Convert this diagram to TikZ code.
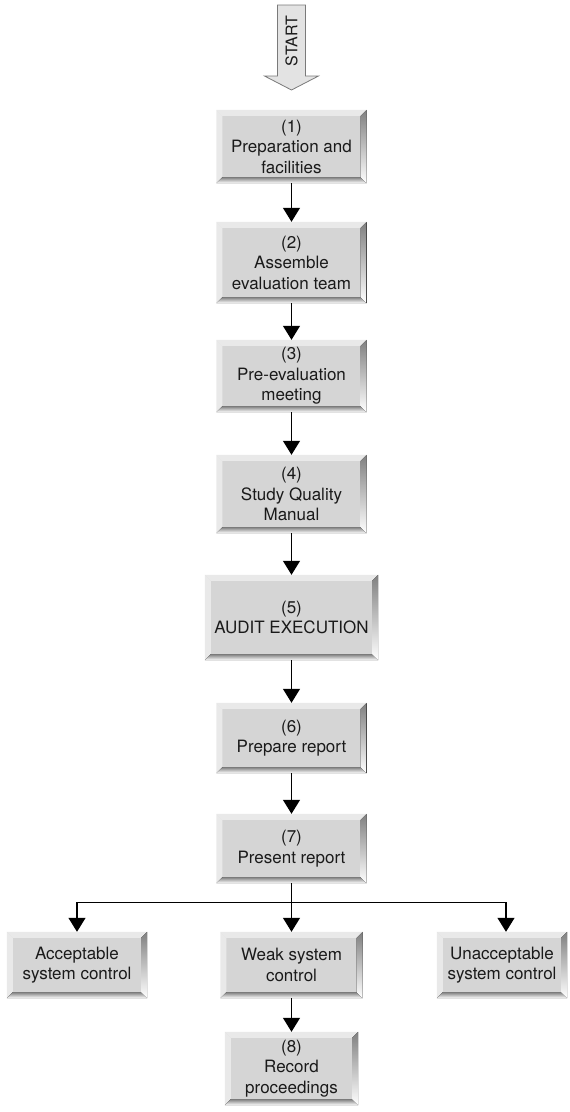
\documentclass[tikz,border=0pt]{standalone}
\usepackage{fontspec}
\setmainfont{TeX Gyre Heros}
\usetikzlibrary{arrows.meta,calc}
\definecolor{face}{HTML}{D5D5D5}
\definecolor{hilite}{HTML}{E9E9E9}
\definecolor{shade}{HTML}{A7A7A7}
\definecolor{ink}{HTML}{1A1A1A}
\definecolor{startfill}{HTML}{E3E3E3}
\definecolor{startline}{HTML}{7A7A7A}

% bevel width of the raised boxes
\newcommand\bw{6}
% raised-panel edges around a named node: light top/left, dark bottom/right
\newcommand\bevel[1]{%
  \fill[hilite] (#1.north west) -- ($(#1.north west)+(\bw,\bw)$) -- ($(#1.south west)+(\bw,-\bw)$) -- (#1.south west) -- cycle;
  \fill[hilite] (#1.north west) -- (#1.north east) -- ($(#1.north east)+(-\bw,\bw)$) -- ($(#1.north west)+(\bw,\bw)$) -- cycle;
  \fill[shade] (#1.south west) -- ($(#1.south west)+(\bw,-\bw)$) -- ($(#1.south east)+(-\bw,-\bw)$) -- (#1.south east) -- cycle;
  \fill[shade] (#1.north east) -- (#1.south east) -- ($(#1.south east)+(-\bw,-\bw)$) -- ($(#1.north east)+(-\bw,\bw)$) -- cycle;
}

\tikzset{
  stage/.style={fill=face, inner sep=0pt, align=center, text=ink,
    font=\fontsize{17}{20.5}\selectfont},
  flow/.style={draw=black, line width=1.2pt, -{Triangle[width=17pt,length=14pt]}},
  startarrow/.style={fill=startfill, draw=startline, line width=0.8pt},
}

\begin{document}
\begin{tikzpicture}[x=1pt,y=-1pt]
\useasboundingbox (0,0) rectangle (570,1112);

% start arrow
\path[startarrow] (277.5,5) -- (305.5,5) -- (305.5,76) -- (318.5,76) -- (291.5,90)
  -- (264.5,76) -- (277.5,76) -- cycle;
\node[rotate=90, text=ink, font=\fontsize{16}{18}\selectfont] (start) at (291.5,41) {START};

% main column
\node[stage, minimum width=150pt, minimum height=73pt] (b1) at (291.5,146.5) {(1)\\Preparation and\\facilities};
\node[stage, minimum width=150pt, minimum height=81pt] (b2) at (291.5,262.5) {(2)\\Assemble\\evaluation team};
\node[stage, minimum width=150pt, minimum height=72pt] (b3) at (291.5,376) {(3)\\Pre-evaluation\\meeting};
\node[stage, minimum width=150pt, minimum height=78pt] (b4) at (291.5,494) {(4)\\Study Quality\\Manual};
\node[stage, minimum width=173pt, minimum height=85pt] (b5) at (291.5,617.5) {(5)\\AUDIT EXECUTION};
\node[stage, minimum width=150pt, minimum height=70pt] (b6) at (291.5,738) {(6)\\Prepare report};
\node[stage, minimum width=150pt, minimum height=69pt] (b7) at (291.5,848.5) {(7)\\Present report};

% outcomes
\node[stage, minimum width=140pt, minimum height=66pt] (acc) at (77,965) {Acceptable\\system control};
\node[stage, minimum width=142pt, minimum height=66pt] (weak) at (291.5,965) {Weak system\\control};
\node[stage, minimum width=130pt, minimum height=66pt] (unacc) at (502,965) {Unacceptable\\system control};
\node[stage, minimum width=133pt, minimum height=73pt] (b8) at (291.5,1068.5) {(8)\\Record\\proceedings};

\foreach \n in {b1,b2,b3,b4,b5,b6,b7,acc,weak,unacc,b8} {\bevel{\n}}

% connectors
\draw[flow] (b1.south) -- (b2.north);
\draw[flow] (b2.south) -- (b3.north);
\draw[flow] (b3.south) -- (b4.north);
\draw[flow] (b4.south) -- (b5.north);
\draw[flow] (b5.south) -- (b6.north);
\draw[flow] (b6.south) -- (b7.north);
\draw[flow] (b7.south) -- (weak.north);
\path (b7.south) ++(0,19) coordinate (fork);
\draw[flow] (fork) -| (acc.north);
\draw[flow] (fork) -| ([xshift=4pt]unacc.north);
\draw[flow] (weak.south) -- (b8.north);
\end{tikzpicture}
\end{document}
